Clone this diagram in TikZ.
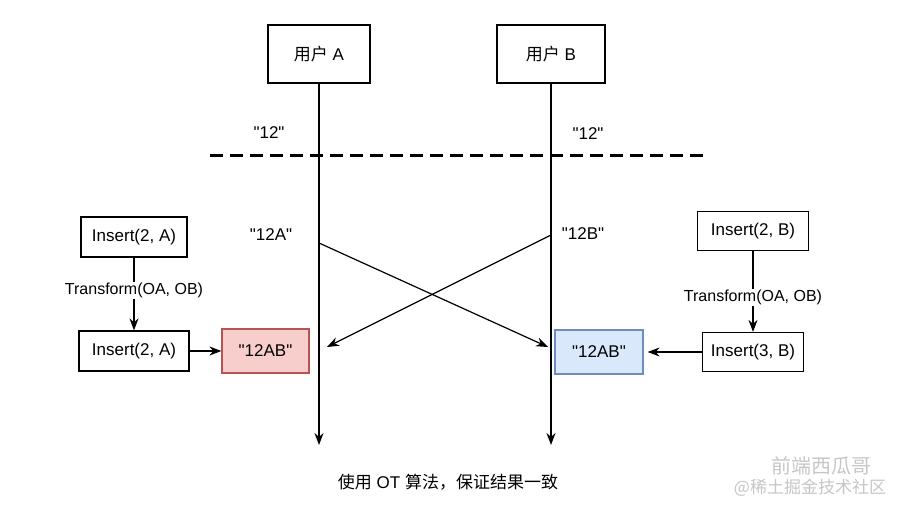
\documentclass[tikz,border=0pt]{standalone}
\usepackage{fontspec}
\setmainfont{Liberation Sans}[Ligatures=TeXOff]
\newfontfamily\cjk{Noto Sans CJK SC}
\usepackage{tikz}
\usetikzlibrary{arrows.meta}
\definecolor{redfill}{HTML}{F8CECC}
\definecolor{redline}{HTML}{B85450}
\definecolor{bluefill}{HTML}{DAE8FC}
\definecolor{blueline}{HTML}{6C8EBF}

\begin{document}
\begin{tikzpicture}[x=1pt, y=-1pt, font=\fontsize{17}{20}\selectfont, line width=1.2pt,
    user/.style={draw, minimum width=102pt, minimum height=58pt},
    opbox/.style={draw, minimum height=40pt, inner sep=0pt},
    result/.style={draw, minimum width=87pt, minimum height=44pt},
    oplabel/.style={fill=white, inner sep=1pt, font=\fontsize{16}{19}\selectfont},
    wmtext/.style={text=gray!45, inner sep=0pt},
    >={Stealth[length=12pt, width=9pt]}]
      \useasboundingbox (0,0) rectangle (907,511);
      % users and their time lines
      \node[user] (userA) at (319,54) {{\cjk 用户} A};
      \node[user, minimum width=108pt] (userB) at (551,54) {{\cjk 用户} B};
      \coordinate (endA) at (319,445);
      \coordinate (endB) at (551,445);
      \draw[->] (userA) -- (endA);
      \draw[->] (userB) -- (endB);
      % shared start state
      \coordinate (cutL) at (210,155);
      \coordinate (cutR) at (705,155);
      \draw[line width=3pt, dash pattern=on 13pt off 7pt] (cutL) -- (cutR);
      \node (initA) at (269,133) {"12"};
      \node (initB) at (588,134) {"12"};
      \node (localA) at (271,235) {"12A"};
      \node (localB) at (583,234) {"12B"};
      % operations sent to the other side
      \coordinate (sendA) at (319,243);
      \coordinate (sendB) at (551,235);
      \coordinate (recvA) at (327,347);
      \coordinate (recvB) at (548,347);
      \draw[->] (sendA) -- (recvB);
      \draw[->] (sendB) -- (recvA);
      % side A
      \node[opbox, minimum width=106pt] (insA) at (134,237) {Insert(2, A)};
      \node[opbox, minimum width=110pt] (insA2) at (134,351) {Insert(2, A)};
      \node[result, fill=redfill, draw=redline] (resA) at (265.5,351) {"12AB"};
      \draw[->] (insA) -- node[oplabel, pos=0.45] {Transform(OA, OB)} (insA2);
      \draw[->] (insA2) -- (resA);
      % side B
      \node[opbox, minimum width=111pt, minimum height=39pt] (insB) at (753,231) {Insert(2, B)};
      \node[opbox, minimum width=101pt, minimum height=39pt] (insB2) at (753,352) {Insert(3, B)};
      \node[result, fill=bluefill, draw=blueline, minimum width=88pt] (resB) at (599,352) {"12AB"};
      \draw[->] (insB) -- node[oplabel, pos=0.57] {Transform(OA, OB)} (insB2);
      \draw[->, shorten >=4pt] (insB2) -- (resB);
      % caption and watermark
      \node (caption) at (448,482) {{\cjk 使用} OT {\cjk 算法，保证结果一致}};
      \node[wmtext, font=\cjk\fontsize{20}{22}\selectfont] (wmName) at (821,466) {前端西瓜哥};
      \node[wmtext, font=\cjk\fontsize{17}{19}\selectfont] (wmSite) at (810,488) {@稀土掘金技术社区};
\end{tikzpicture}
\end{document}
